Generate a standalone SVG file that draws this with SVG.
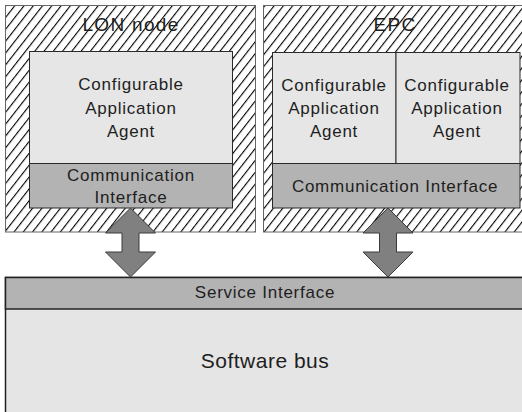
<svg xmlns="http://www.w3.org/2000/svg" width="522" height="412" viewBox="0 0 522 412">
  <defs>
    <!-- diagonal hatching for the node enclosures -->
    <pattern id="hatch" patternUnits="userSpaceOnUse" width="7.3" height="7.3" patternTransform="rotate(38)">
      <rect x="0" y="0" width="7.3" height="7.3" fill="#ffffff"/>
      <rect x="0" y="0" width="1.1" height="7.3" fill="#000000"/>
    </pattern>
  </defs>
  <style>
    text { font-family: "Liberation Sans", Arial, sans-serif; fill: #1e1e1e; text-anchor: middle; }
    .enclosure { fill: url(#hatch); stroke: #666666; stroke-width: 1; }
    .agent { fill: #e6e6e6; stroke: #2a2a2a; stroke-width: 1; }
    .comm { fill: #b3b3b3; stroke: #2a2a2a; stroke-width: 1; }
    .title { font-size: 19px; letter-spacing: 1.3px; }
    .label { font-size: 17px; letter-spacing: 0.75px; }
    .big { font-size: 21px; letter-spacing: 0.5px; }
    .arrow { fill: #808080; stroke: #3a3a3a; stroke-width: 1; stroke-linejoin: miter; }
  </style>

  <rect width="522" height="412" fill="#ffffff"/>

  <!-- LON node -->
  <g id="lon-node">
    <rect class="enclosure" x="5.5" y="5.5" width="250" height="226.5"/>
    <text class="title" x="131" y="31">LON node</text>
    <g id="lon-agent">
      <rect class="agent" x="29.5" y="51.5" width="203" height="112"/>
      <text class="label" x="131" y="90">Configurable</text>
      <text class="label" x="131" y="114">Application</text>
      <text class="label" x="131" y="137">Agent</text>
    </g>
    <g id="lon-comm">
      <rect class="comm" x="29.5" y="163.5" width="203" height="44.5"/>
      <text class="label" x="131" y="181">Communication</text>
      <text class="label" x="131" y="203">Interface</text>
    </g>
  </g>

  <!-- EPC -->
  <g id="epc">
    <rect class="enclosure" x="263.5" y="5.5" width="270" height="226.5"/>
    <text class="title" x="395" y="31">EPC</text>
    <g id="epc-agent-1">
      <rect class="agent" x="272.5" y="52.5" width="123.5" height="111"/>
      <text class="label" x="334" y="91">Configurable</text>
      <text class="label" x="334" y="114">Application</text>
      <text class="label" x="334" y="137">Agent</text>
    </g>
    <g id="epc-agent-2">
      <rect class="agent" x="396" y="52.5" width="124" height="111"/>
      <text class="label" x="457" y="91">Configurable</text>
      <text class="label" x="457" y="114">Application</text>
      <text class="label" x="457" y="137">Agent</text>
    </g>
    <g id="epc-comm">
      <rect class="comm" x="272.5" y="163.5" width="247.5" height="44.5"/>
      <text class="label" x="395" y="192">Communication Interface</text>
    </g>
  </g>

  <!-- Software bus with its service interface -->
  <g id="software-bus">
    <rect x="5.5" y="277.5" width="530" height="150" fill="#e5e5e5" stroke="#222222" stroke-width="1.5"/>
    <g id="service-interface">
      <rect x="5.5" y="277.5" width="530" height="31.5" fill="#b3b3b3" stroke="#222222" stroke-width="1.5"/>
      <text class="label" x="265" y="298">Service Interface</text>
    </g>
    <text class="big" x="265" y="368">Software bus</text>
  </g>

  <!-- bidirectional links between the nodes and the bus -->
  <g id="connectors">
    <path class="arrow" d="M130.5,208 L155.5,233 L139,233 L139,252 L155.5,252 L130.5,277 L105.5,252 L122,252 L122,233 L105.5,233 Z"/>
    <path class="arrow" d="M388,208 L413,233 L396.5,233 L396.5,252 L413,252 L388,277 L363,252 L379.5,252 L379.5,233 L363,233 Z"/>
  </g>
</svg>
